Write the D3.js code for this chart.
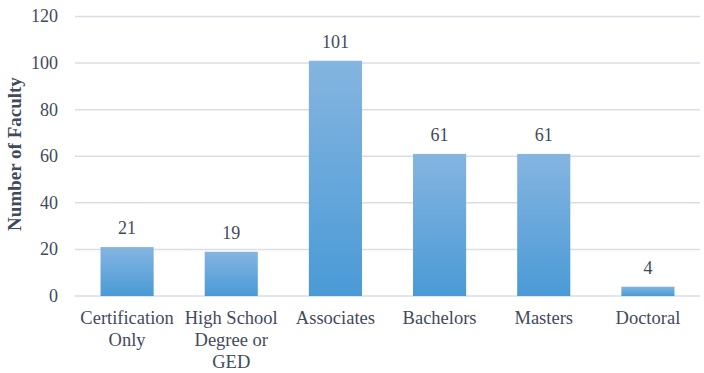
<!DOCTYPE html>
<html><head><meta charset="utf-8">
<script src="https://cdn.jsdelivr.net/npm/d3@7"></script>
<style>body{margin:0;background:#fff}svg{display:block}</style>
</head><body>
<script>
const categories = [["Certification","Only"],["High School","Degree or","GED"],["Associates"],["Bachelors"],["Masters"],["Doctoral"]];
const values = [21, 19, 101, 61, 61, 4];
const yTicks = [0, 20, 40, 60, 80, 100, 120];
const yTitle = "Number of Faculty";

const W = 704, H = 373;
const m = {left: 75, right: 4, top: 16.5, bottom: 77};
const svg = d3.select("body").append("svg").attr("width", W).attr("height", H);
const defs = svg.append("defs");
const g1 = defs.append("linearGradient").attr("id","bg").attr("x1",0).attr("y1",0).attr("x2",0).attr("y2",1);
g1.append("stop").attr("offset","0%").attr("stop-color","#85b5e0");
g1.append("stop").attr("offset","100%").attr("stop-color","#4a9ad6");

const x = d3.scaleBand().domain(d3.range(categories.length)).range([m.left, W - m.right]).paddingInner(0.49).paddingOuter(0.245);
const y = d3.scaleLinear().domain([0,120]).range([H - m.bottom, m.top]);
const font = "'Liberation Serif', 'Times New Roman', Times, serif";
const txt = "#3f4a5c";
const fs = 18.5;

svg.append("g").selectAll("line").data(yTicks).join("line")
  .attr("x1", m.left).attr("x2", W - m.right)
  .attr("y1", d => y(d)).attr("y2", d => y(d))
  .attr("stroke", "#dadde6").attr("stroke-width", 1.5);

svg.append("g").selectAll("text").data(yTicks).join("text")
  .attr("x", 58).attr("y", d => y(d)).attr("dy","0.33em")
  .attr("text-anchor","end").style("font-family",font).attr("font-size",18).attr("fill",txt)
  .text(d => d);

svg.append("g").selectAll("rect").data(values).join("rect")
  .attr("x", (d,i) => x(i)).attr("width", x.bandwidth())
  .attr("y", d => y(d)).attr("height", d => y(0) - y(d))
  .attr("fill","url(#bg)");

svg.append("g").selectAll("text").data(values).join("text")
  .attr("x", (d,i) => x(i) + x.bandwidth()/2).attr("y", d => y(d) - 13)
  .attr("text-anchor","middle").style("font-family",font).attr("font-size",18).attr("fill",txt)
  .text(d => d);

const xl = svg.append("g").selectAll("text").data(categories).join("text")
  .attr("x", (d,i) => x(i) + x.bandwidth()/2).attr("y", 324)
  .attr("text-anchor","middle").style("font-family",font).attr("font-size",fs).attr("fill",txt);
xl.selectAll("tspan").data(d => d).join("tspan")
  .attr("x", function(){ return this.parentNode.getAttribute("x"); })
  .attr("dy", (d,i) => i === 0 ? 0 : 22)
  .text(d => d);

svg.append("text").attr("transform", `translate(21,154) rotate(-90)`)
  .attr("text-anchor","middle").style("font-family",font).attr("font-size",19).attr("font-weight","bold").attr("fill",txt)
  .text(yTitle);
</script>
</body></html>
